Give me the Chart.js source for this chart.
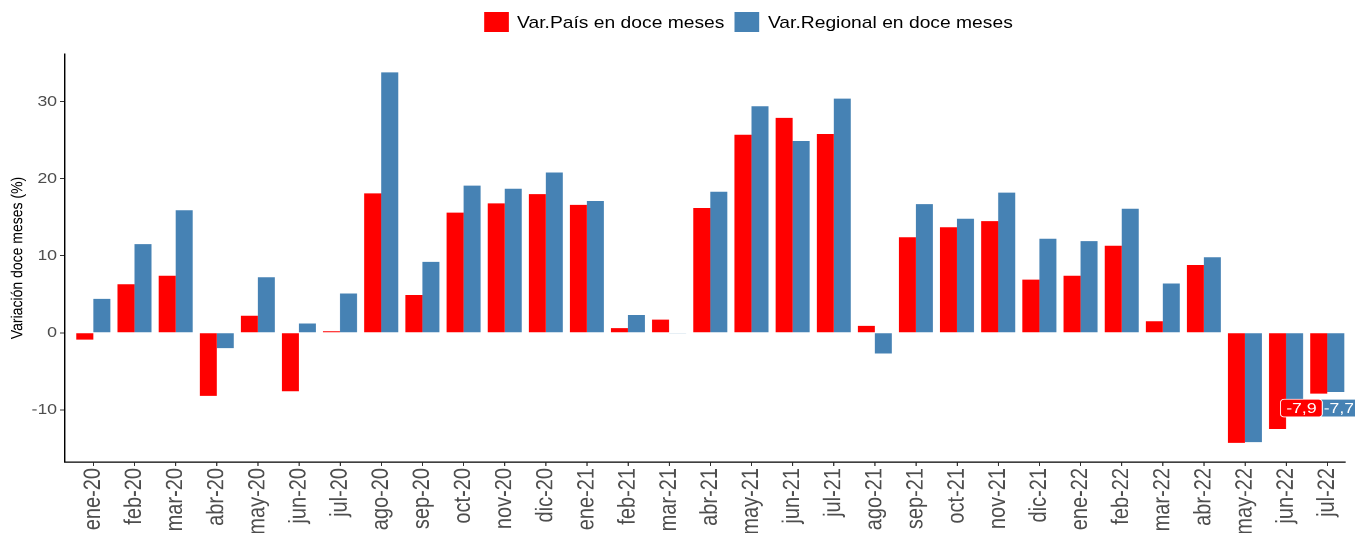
<!DOCTYPE html>
<html>
<head>
<meta charset="utf-8">
<script src="https://cdn.jsdelivr.net/npm/chart.js@4.4.1/dist/chart.umd.min.js"></script>
<style>
  html, body { margin: 0; padding: 0; background: #fff; overflow: hidden; }
  #wrap {
    position: relative;
    width: 1153px;
    height: 533px;
    transform: scaleX(1.1752);
    transform-origin: 0 0;
    font-family: "Liberation Sans", Arial, sans-serif;
  }
  #chart { display: block; }
  #legend {
    position: absolute;
    top: 12px;
    left: 412px;
    display: flex;
    align-items: center;
    font-size: 16.4px;
    color: #000;
    white-space: nowrap;
  }
  #legend .box { width: 21px; height: 20px; margin-right: 7px; }
  #legend .item { display: flex; align-items: center; margin-right: 9px; }
</style>
</head>
<body>
<div id="wrap">
  <div id="legend"></div>
  <canvas id="chart"></canvas>
</div>
<script>
const months = ["ene-20", "feb-20", "mar-20", "abr-20", "may-20", "jun-20", "jul-20", "ago-20",
  "sep-20", "oct-20", "nov-20", "dic-20", "ene-21", "feb-21", "mar-21", "abr-21", "may-21",
  "jun-21", "jul-21", "ago-21", "sep-21", "oct-21", "nov-21", "dic-21", "ene-22", "feb-22",
  "mar-22", "abr-22", "may-22", "jun-22", "jul-22"];

const varPais = [-0.9, 6.3, 7.4, -8.2, 2.2, -7.6, 0.2, 18.1, 4.9, 15.6, 16.8, 18.0, 16.6, 0.6,
  1.7, 16.2, 25.7, 27.9, 25.8, 0.9, 12.4, 13.7, 14.5, 6.9, 7.4, 11.3, 1.5, 8.8, -14.3, -12.5, -7.9];

const varRegional = [4.4, 11.5, 15.9, -2.0, 7.2, 1.2, 5.1, 33.8, 9.2, 19.1, 18.7, 20.8, 17.1, 2.3,
  -0.05, 18.3, 29.4, 24.9, 30.4, -2.7, 16.7, 14.8, 18.2, 12.2, 11.9, 16.1, 6.4, 9.8, -14.2, -9.8, -7.7];

const seriesNames = ["Var.País en doce meses", "Var.Regional en doce meses"];
const seriesColors = ["#FF0000", "#4682B4"];
const yTicks = [-10, 0, 10, 20, 30];

const FONT = '"Liberation Sans", Arial, sans-serif';

// leyenda en html
const legendEl = document.getElementById("legend");
seriesNames.forEach((name, i) => {
  const item = document.createElement("div");
  item.className = "item";
  const box = document.createElement("div");
  box.className = "box";
  box.style.background = seriesColors[i];
  const txt = document.createElement("span");
  txt.textContent = name;
  item.appendChild(box);
  item.appendChild(txt);
  legendEl.appendChild(item);
});

// eje x con margen como ggplot (0.6 categorias a cada lado)
const xExpandPlugin = {
  id: "xExpand",
  afterLayout(chart) {
    const x = chart.scales.x;
    const step = 35;
    const firstTick = 79.4;
    x._startValue = -(firstTick - x.left) / step;
    x._valueRange = (x.right - x.left) / step;
  },
};

// etiquetas del ultimo mes
const lastLabelPlugin = {
  id: "lastLabel",
  afterDatasetsDraw(chart) {
    const ctx = chart.ctx;
    const idx = months.length - 1;
    const yScale = chart.scales.y;
    const vals = [varPais[idx], varRegional[idx]];
    const cy = yScale.getPixelForValue(Math.min(...vals)) + 14.5;
    const offsets = [-14.8, 2.6];
    ctx.save();
    ctx.font = "15px " + FONT;
    ctx.textAlign = "center";
    ctx.textBaseline = "middle";
    [1, 0].forEach((d) => {
      const bar = chart.getDatasetMeta(d).data[idx];
      const cx = bar.x + offsets[d];
      const w = 35.5, h = 17.7;
      ctx.beginPath();
      ctx.roundRect(cx - w / 2, cy - h / 2, w, h, 3);
      ctx.fillStyle = seriesColors[d];
      ctx.fill();
      ctx.lineWidth = 0.8;
      ctx.strokeStyle = "#ffffff";
      ctx.stroke();
      ctx.fillStyle = "#ffffff";
      ctx.fillText(vals[d].toFixed(1).replace(".", ","), cx, cy + 1);
    });
    ctx.restore();
  },
};

new Chart(document.getElementById("chart"), {
  type: "bar",
  data: {
    labels: months,
    datasets: [
      {
        label: seriesNames[0],
        data: varPais,
        backgroundColor: seriesColors[0],
        categoryPercentage: 0.827,
        barPercentage: 1,
      },
      {
        label: seriesNames[1],
        data: varRegional,
        backgroundColor: seriesColors[1],
        categoryPercentage: 0.827,
        barPercentage: 1,
      },
    ],
  },
  options: {
    responsive: true,
    maintainAspectRatio: false,
    animation: false,
    devicePixelRatio: 2,
    layout: { padding: { top: 54, left: 0, right: 0, bottom: 0 } },
    plugins: {
      legend: { display: false },
      tooltip: { enabled: false },
    },
    scales: {
      x: {
        grid: {
          display: true,
          offset: false,
          drawOnChartArea: false,
          drawTicks: true,
          tickLength: 4,
          tickColor: "#333333",
        },
        border: { display: true, color: "#000000", width: 1.2 },
        ticks: {
          autoSkip: false,
          maxRotation: 90,
          minRotation: 90,
          padding: 2,
          color: "#4d4d4d",
          font: { family: FONT, size: 20 },
        },
        afterFit(scale) {
          scale.height = 71;
        },
      },
      y: {
        min: -16.78,
        max: 36.19,
        grid: {
          display: true,
          drawOnChartArea: false,
          drawTicks: true,
          tickLength: 4.3,
          tickColor: "#333333",
        },
        border: { display: true, color: "#000000", width: 1.2 },
        ticks: {
          padding: 2.5,
          color: "#4d4d4d",
          font: { family: FONT, size: 15 },
        },
        afterBuildTicks(scale) {
          scale.ticks = yTicks.map((v) => ({ value: v }));
        },
        title: {
          display: true,
          text: "Variación doce meses (%)",
          color: "#000000",
          font: { family: FONT, size: 14 },
          padding: { top: 6.5, bottom: 0 },
        },
        afterFit(scale) {
          scale.width = 55.3;
        },
      },
    },
  },
  plugins: [xExpandPlugin, lastLabelPlugin],
});
</script>
</body>
</html>
